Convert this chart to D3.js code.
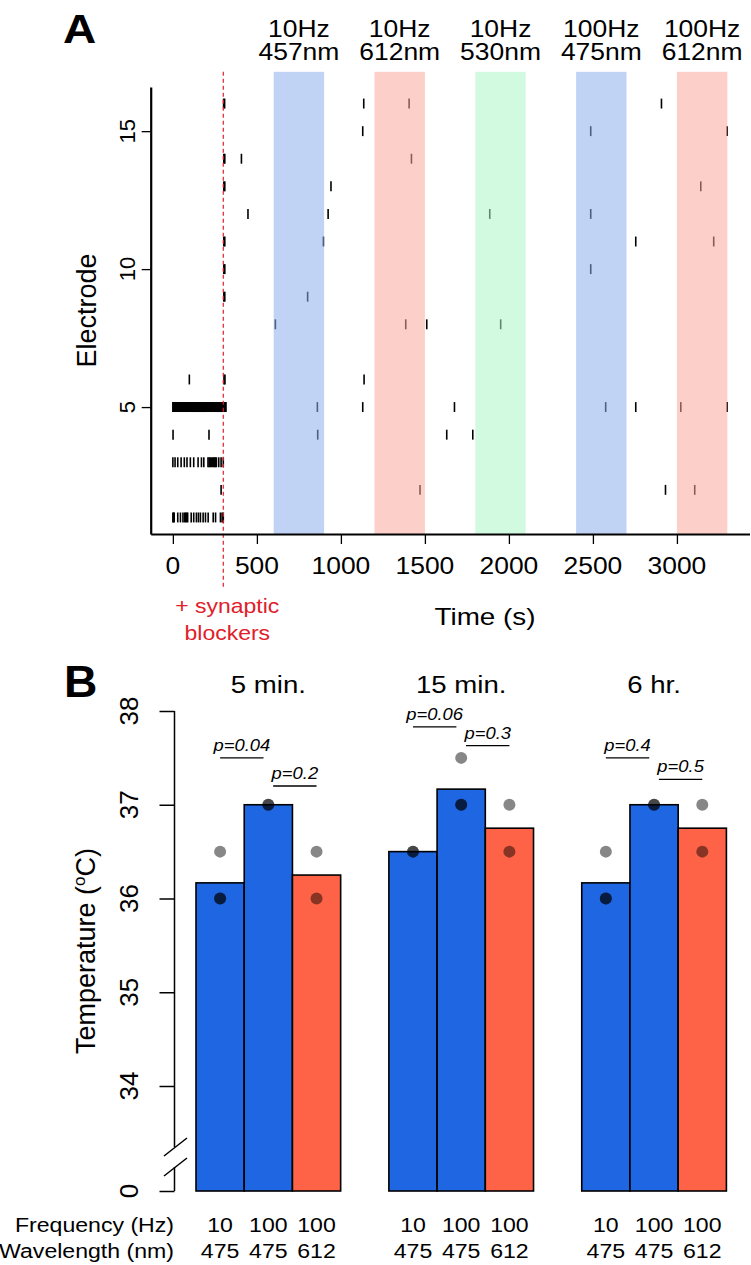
<!DOCTYPE html>
<html>
<head>
<meta charset="utf-8">
<script src="https://cdn.jsdelivr.net/npm/d3@7"></script>
<style>
body { margin: 0; background: #fff; }
svg { display: block; font-family: "Liberation Sans", Arial, sans-serif; }
</style>
</head>
<body>
<div id="chart"></div>
<script>
// ---- panel A data: spike times (s) per electrode ----
var spikesE1 = [0, 4, 8, 29, 45, 60, 70, 76, 82, 88, 109, 124, 140, 152, 164, 180, 194, 210, 240, 254, 283, 293, 300];
var spikesE2 = [287, 1471, 2932, 3106];
var spikesE3 = [0, 13, 29, 49, 68, 84, 104, 124, 150, 170, 184, 209, 216, 223, 230, 237, 243, 249, 254, 259, 273, 287, 300];
var spikesE4 = [1, 215, 862, 1630, 1785];
var spikesE5 = [0, 3, 7, 12, 15, 19, 24, 28, 31, 36, 40, 43, 48, 52, 55, 60, 64, 67, 72, 75, 80, 84, 88, 91, 96, 100,
    103, 108, 112, 116, 119, 124, 128, 131, 136, 140, 144, 148, 151, 156, 160, 163, 168, 172, 176, 180, 183, 188,
    192, 195, 200, 204, 208, 212, 215, 220, 224, 228, 232, 236, 240, 244, 247, 252, 256, 260, 264, 268, 272, 276,
    280, 284, 288, 292, 296, 300, 304, 308, 312, 316, 860, 1130, 1676, 2576, 2755, 3023, 3299];
var spikesE6 = [98, 304, 310, 1138];
var spikesE7 = [];
var spikesE8 = [610, 1386, 1511, 1951];
var spikesE9 = [303, 309, 802];
var spikesE10 = [303, 309, 2487];
var spikesE11 = [303, 309, 896, 2755, 3219];
var spikesE12 = [447, 924, 1886, 2487];
var spikesE13 = [303, 309, 941, 3142];
var spikesE14 = [303, 309, 408, 1420];
var spikesE15 = [1130, 2487, 3299];
var spikesE16 = [302, 308, 1136, 1406, 2908];
var spikeRows = [spikesE1, spikesE2, spikesE3, spikesE4, spikesE5, spikesE6, spikesE7, spikesE8,
    spikesE9, spikesE10, spikesE11, spikesE12, spikesE13, spikesE14, spikesE15, spikesE16];

var stimStart = [600, 1200, 1800, 2400, 3000];
var stimEnd = [900, 1500, 2100, 2700, 3300];
var stimFreq = ["10Hz", "10Hz", "10Hz", "100Hz", "100Hz"];
var stimWave = ["457nm", "612nm", "530nm", "475nm", "612nm"];
var stimColor = ["rgba(142,175,235,0.55)", "rgba(250,169,154,0.55)", "rgba(173,246,199,0.55)",
    "rgba(142,175,235,0.55)", "rgba(250,169,154,0.55)"];
var blockerTime = 300;
var xTicksA = [0, 500, 1000, 1500, 2000, 2500, 3000];
var yTicksA = [5, 10, 15];

// ---- panel B data: temperature points per bar ----
var groupLabels = ["5 min.", "15 min.", "6 hr."];
var freqLabels = ["10", "100", "100"];
var waveLabels = ["475", "475", "612"];
var barColors = ["#1f66e3", "#1f66e3", "#ff6347"];
var tempG1 = [[36, 36, 36.5], [37, 37], [36, 36.5]];
var tempG2 = [[36.5, 36.5], [37, 37, 37.5], [36.5, 37]];
var tempG3 = [[36, 36, 36.5], [37, 37], [36.5, 37]];
var tempGroups = [tempG1, tempG2, tempG3];
var pLabels = [["p=0.04", "p=0.2"], ["p=0.06", "p=0.3"], ["p=0.4", "p=0.5"]];
var pHeights = [[37.5, 37.2], [37.83, 37.63], [37.5, 37.27]];
var yTicksB = [0, 34, 35, 36, 37, 38];

var width = 751, height = 1265;
var svg = d3.select("#chart").append("svg")
    .attr("width", width)
    .attr("height", height);

// text helper (the figure's lettering is slightly wide)
function label(g, x, y, str, size, opt) {
    opt = opt || {};
    var t = g.append("text")
        .attr("transform", "translate(" + x + "," + y + ")" + (opt.rot ? " rotate(" + opt.rot + ")" : "") +
            " scale(" + (opt.sx || 1) + ",1)")
        .attr("text-anchor", opt.anchor || "middle")
        .style("font-size", size + "px")
        .style("fill", opt.color || "#000");
    if (opt.weight) t.style("font-weight", opt.weight);
    if (opt.italic) t.style("font-style", "italic");
    t.text(str);
    return t;
}

// ================= panel A =================
var gA = svg.append("g");
var xA = d3.scaleLinear().domain([-132, 3432]).range([150.7, 749.5]);
var yA = d3.scaleLinear().domain([0.4, 16.6]).range([534, 87]);
var bandTop = 17.15;

// spikes
spikeRows.forEach(function (times, i) {
    var e = i + 1;
    gA.selectAll(null)
        .data(times)
        .enter().append("line")
        .attr("x1", function (d) { return xA(d); })
        .attr("x2", function (d) { return xA(d); })
        .attr("y1", yA(e - 0.18))
        .attr("y2", yA(e + 0.18))
        .attr("stroke", "#000")
        .attr("stroke-width", 1.6);
});

// light stimulation bands (semi transparent over the spikes)
gA.selectAll(".band")
    .data(stimStart)
    .enter().append("rect")
    .attr("class", "band")
    .attr("x", function (d) { return xA(d); })
    .attr("width", function (d, i) { return xA(stimEnd[i]) - xA(d); })
    .attr("y", yA(bandTop))
    .attr("height", yA(0.4) - yA(bandTop))
    .attr("fill", function (d, i) { return stimColor[i]; });

stimStart.forEach(function (s, i) {
    var cx = xA((s + stimEnd[i]) / 2);
    label(gA, cx, 37, stimFreq[i], 23, {sx: 1.15});
    label(gA, cx, 60, stimWave[i], 23, {sx: 1.15});
});

// synaptic blocker line
gA.append("line")
    .attr("x1", xA(blockerTime)).attr("x2", xA(blockerTime))
    .attr("y1", yA(bandTop)).attr("y2", yA(-1.55))
    .attr("stroke", "#e0202a")
    .attr("stroke-width", 1.2)
    .attr("stroke-dasharray", "4,3");
label(gA, xA(blockerTime) + 4, 613, "+ synaptic", 20, {sx: 1.15, color: "#e0202a"});
label(gA, xA(blockerTime) + 4, 640, "blockers", 20, {sx: 1.15, color: "#e0202a"});

// axes
var axL = gA.append("g")
    .attr("transform", "translate(" + xA.range()[0] + ",0)")
    .call(d3.axisLeft(yA).tickValues(yTicksA).tickSize(9).tickSizeOuter(0).tickFormat(""));
var axB = gA.append("g")
    .attr("transform", "translate(0," + yA.range()[0] + ")")
    .call(d3.axisBottom(xA).tickValues(xTicksA).tickSize(10).tickSizeOuter(0).tickFormat(""));
[axL, axB].forEach(function (a) {
    a.select(".domain").attr("stroke-width", 2.2);
    a.selectAll(".tick line").attr("stroke-width", 1.3);
});

yTicksA.forEach(function (v) {
    label(gA, 135, yA(v), v, 22, {rot: -90});
});
xTicksA.forEach(function (v) {
    label(gA, xA(v), 574, v, 24, {sx: 1.1});
});
label(gA, 485, 625, "Time (s)", 24, {sx: 1.16});
label(gA, 96, (yA.range()[0] + yA.range()[1]) / 2, "Electrode", 27, {rot: -90});
label(gA, 63, 43, "A", 40, {anchor: "start", weight: "bold", sx: 1.15});

// ================= panel B =================
var gB = svg.append("g");
var xB = d3.scaleLinear().domain([0, 11]).range([196, 726.4]);
var yB = d3.scaleLinear().domain([0, 34, 38]).range([1191, 1086, 711]);
var axisXB = 174.5;
var bw = xB(1) - xB(0);

tempGroups.forEach(function (grp, g) {
    var gx = g * 4;
    // bars: mean of the measured points
    gB.selectAll(null)
        .data(grp)
        .enter().append("rect")
        .attr("x", function (d, i) { return xB(gx + i); })
        .attr("width", bw)
        .attr("y", function (d) { return yB(d3.mean(d)); })
        .attr("height", function (d) { return yB(0) - yB(d3.mean(d)); })
        .attr("fill", function (d, i) { return barColors[i]; })
        .attr("stroke", "#000")
        .attr("stroke-width", 1.6);

    // individual points
    grp.forEach(function (pts, i) {
        gB.selectAll(null)
            .data(pts)
            .enter().append("circle")
            .attr("cx", xB(gx + i + 0.5))
            .attr("cy", function (d) { return yB(d); })
            .attr("r", 6)
            .attr("fill", "#000")
            .attr("fill-opacity", 0.47);
    });

    // p-value brackets
    pLabels[g].forEach(function (p, k) {
        var x1 = xB(gx + k + 0.5) + (k === 1 ? 0.1 * bw : 0);
        var x2 = xB(gx + k + 1.5) - (k === 0 ? 0.1 * bw : 0);
        var yy = yB(pHeights[g][k]);
        gB.append("line")
            .attr("x1", x1).attr("x2", x2)
            .attr("y1", yy).attr("y2", yy)
            .attr("stroke", "#000")
            .attr("stroke-width", 1.3);
        label(gB, (x1 + x2) / 2, yy - 7, p, 16, {sx: 1.15, italic: true});
    });

    label(gB, xB(gx + 1.5), 693, groupLabels[g], 24, {sx: 1.15});

    freqLabels.forEach(function (f, i) {
        label(gB, xB(gx + i + 0.5), 1232, f, 21, {sx: 1.1});
        label(gB, xB(gx + i + 0.5), 1258, waveLabels[i], 21, {sx: 1.1});
    });
});

// y axis with break
var axYB = gB.append("g")
    .attr("transform", "translate(" + axisXB + ",0)")
    .call(d3.axisLeft(yB).tickValues(yTicksB).tickSize(15).tickSizeOuter(0).tickFormat(""));
axYB.select(".domain").remove();
axYB.selectAll(".tick line").attr("stroke-width", 1.5);
gB.append("line")
    .attr("x1", axisXB).attr("x2", axisXB)
    .attr("y1", yB(38)).attr("y2", yB(0) - 44)
    .attr("stroke", "#000").attr("stroke-width", 1.5);
gB.append("line")
    .attr("x1", axisXB).attr("x2", axisXB)
    .attr("y1", yB(0) - 24).attr("y2", yB(0))
    .attr("stroke", "#000").attr("stroke-width", 1.5);
[-44, -24].forEach(function (off) {
    gB.append("line")
        .attr("x1", axisXB + 1 - 11.5).attr("x2", axisXB + 1 + 11.5)
        .attr("y1", yB(0) + off + 9).attr("y2", yB(0) + off - 9)
        .attr("stroke", "#000").attr("stroke-width", 1.5);
});

yTicksB.forEach(function (v) {
    label(gB, 138, yB(v), v, 26, {rot: -90});
});

var tl = gB.append("text")
    .attr("transform", "translate(95," + ((yB(38) + yB(0)) / 2) + ") rotate(-90)")
    .attr("text-anchor", "middle")
    .style("font-size", "27px");
tl.append("tspan").text("Temperature (");
tl.append("tspan").attr("dy", -10).style("font-size", "17px").text("o");
tl.append("tspan").attr("dy", 10).text("C)");

label(gB, 174, 1232, "Frequency (Hz)", 21, {anchor: "end", sx: 1.1});
label(gB, 174, 1258, "Wavelength (nm)", 21, {anchor: "end", sx: 1.1});
label(gB, 64, 697, "B", 44, {anchor: "start", weight: "bold", sx: 1.05});
</script>
</body>
</html>
